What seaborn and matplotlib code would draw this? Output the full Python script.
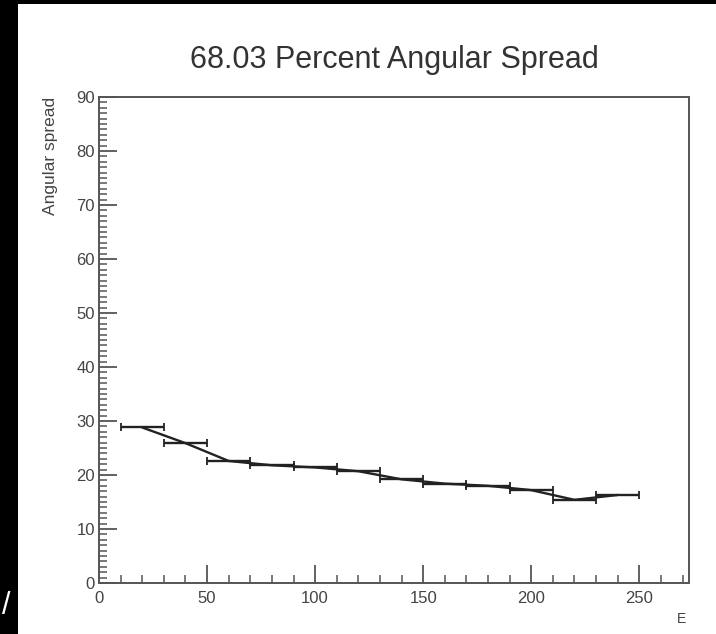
import matplotlib
matplotlib.use("Agg")
import matplotlib.pyplot as plt
import seaborn as sns
import pandas as pd
from matplotlib.patches import Rectangle
from matplotlib.ticker import MultipleLocator

# ---- data ----
energy = [20, 40, 60, 80, 100, 120, 140, 160, 180, 200, 220, 240]
spread = [28.8, 25.9, 22.6, 21.8, 21.4, 20.7, 19.2, 18.4, 18.0, 17.2, 15.4, 16.3]
energy_halfwidth = [10, 10, 10, 10, 10, 10, 10, 10, 10, 10, 10, 10]
title = "68.03 Percent Angular Spread"
xlabel = "E"
ylabel = "Angular spread"

df = pd.DataFrame({"E": energy, "spread": spread, "dE": energy_halfwidth})

sns.set_theme(style="white")
plt.rcParams["font.family"] = ["Liberation Sans", "DejaVu Sans"]

W, H = 716, 634
fig = plt.figure(figsize=(W / 100, H / 100), dpi=100, facecolor="white")
L, R, T, B = 99, 689, 97, 583
ax = fig.add_axes([L / W, 1 - B / H, (R - L) / W, (B - T) / H])
ax.set_facecolor("white")

line_col = "#222222"
# horizontal error bars with end caps
ax.errorbar(df["E"], df["spread"], xerr=df["dE"], fmt="none",
            ecolor=line_col, elinewidth=1.7, capsize=3, capthick=1.3, zorder=3)
# connecting line
sns.lineplot(data=df, x="E", y="spread", ax=ax, color=line_col,
             linewidth=1.7, sort=True, zorder=4)

ax.set_xlim(0, 273)
ax.set_ylim(0, 90)

spine_col = "#555555"
for s in ax.spines.values():
    s.set_color(spine_col)
    s.set_linewidth(1.4)

ax.xaxis.set_major_locator(MultipleLocator(50))
ax.xaxis.set_minor_locator(MultipleLocator(10))
ax.yaxis.set_major_locator(MultipleLocator(10))
ax.yaxis.set_minor_locator(MultipleLocator(1))
ax.tick_params(axis="both", which="both", bottom=True, left=True,
               top=False, right=False, direction="in")
ax.tick_params(axis="both", which="major", length=13,
               width=1.3, color=spine_col, labelcolor="#444444",
               labelsize=12)
ax.tick_params(axis="both", which="minor", length=6,
               width=1.1, color=spine_col)
ax.tick_params(axis="x", which="major", pad=6)
ax.tick_params(axis="y", which="major", pad=3)

ax.set_xlabel("")
ax.set_ylabel("")
fig.text(682 / W, 1 - 619 / H, xlabel, ha="center", va="center",
         fontsize=10, color="#444444")
fig.text(50 / W, 1 - 97 / H, ylabel, ha="center", va="top", rotation=90,
         fontsize=12.5, color="#444444")
fig.text(394 / W, 1 - 60 / H, title, ha="center", va="center",
         fontsize=22, color="#333333")

# black frame strips of the screenshot
fig.patches.append(Rectangle((0, 0), 18 / W, 1, transform=fig.transFigure,
                             facecolor="black", edgecolor="none", zorder=-1))
fig.patches.append(Rectangle((0, 1 - 4 / H), 1, 4 / H, transform=fig.transFigure,
                             facecolor="black", edgecolor="none", zorder=-1))
fig.text(6 / W, 1 - 606 / H, "/", ha="center", va="center", fontsize=22,
         color="white")

fig.savefig("out.png", dpi=100, facecolor="white")
